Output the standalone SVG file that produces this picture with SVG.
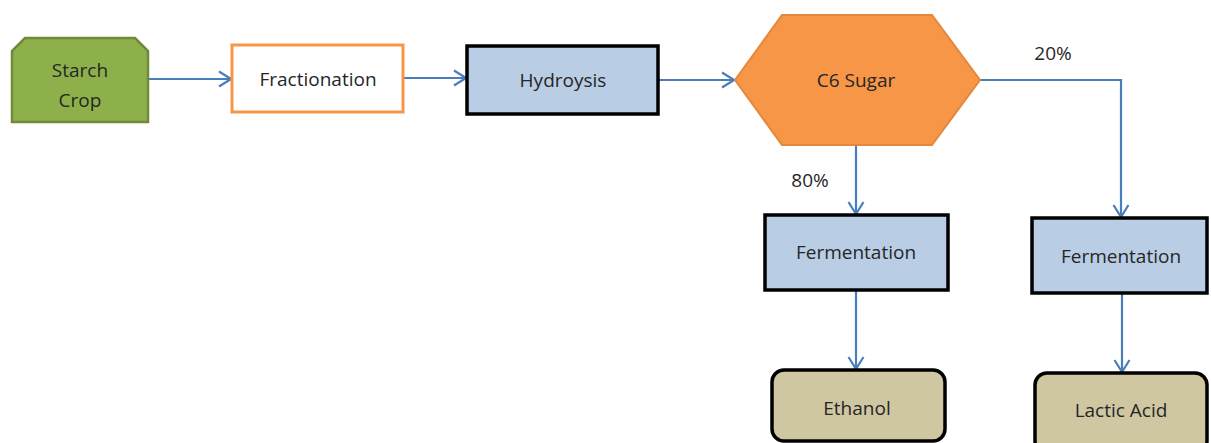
<svg xmlns="http://www.w3.org/2000/svg" width="1211" height="443" viewBox="0 0 1211 443">
<defs>
<marker id="arr" viewBox="0 0 14 18" refX="13" refY="9" markerWidth="14" markerHeight="18" markerUnits="userSpaceOnUse" orient="auto">
<path d="M1,1.5 L13,9 L1,16.5" fill="none" stroke="#4a7ebb" stroke-width="2.2"/>
</marker>
</defs>
<style>
text{font-family:"Open Sans","Liberation Sans",sans-serif;font-size:19px;fill:#262626;text-anchor:middle;dominant-baseline:central}
.blue{fill:#b9cde5;stroke:#000;stroke-width:3.5}
.tan{fill:#cfc7a1;stroke:#000;stroke-width:3.5}
.conn{fill:none;stroke:#4a7ebb;stroke-width:2.2;marker-end:url(#arr)}
</style>
<rect width="1211" height="443" fill="#fff"/>
<g id="connectors">
<path class="conn" d="M148,79 L231,79"/>
<path class="conn" d="M403,78 L466,78"/>
<path class="conn" d="M659,80 L734,80"/>
<path class="conn" d="M980,80 L1121,80 L1121,217"/>
<path class="conn" d="M856,145 L856,214"/>
<path class="conn" d="M856,290 L856,369"/>
<path class="conn" d="M1122,293 L1122,372"/>
<text x="1053" y="53">20%</text>
<text x="810" y="180">80%</text>
</g>
<g id="starch">
<path d="M25,38 L135,38 L148,51 L148,122 L12,122 L12,51 Z" fill="#8db04a" stroke="#6f8a38" stroke-width="2.5"/>
<text x="80" y="70">Starch</text>
<text x="80" y="100">Crop</text>
</g>
<g id="fractionation">
<rect x="232" y="45" width="171" height="67" fill="#fff" stroke="#f79646" stroke-width="3"/>
<text x="318" y="79">Fractionation</text>
</g>
<g id="hydroysis">
<rect class="blue" x="467" y="46" width="191" height="68"/>
<text x="563" y="80">Hydroysis</text>
</g>
<g id="c6sugar">
<path d="M735,80 L782,15 L932,15 L980,80 L932,145 L782,145 Z" fill="#f79646" stroke="#e3883c" stroke-width="2"/>
<text x="856" y="80">C6 Sugar</text>
</g>
<g id="ferm1">
<rect class="blue" x="765" y="215" width="183" height="75"/>
<text x="856" y="252">Fermentation</text>
</g>
<g id="ferm2">
<rect class="blue" x="1032" y="218" width="175" height="75"/>
<text x="1121" y="256">Fermentation</text>
</g>
<g id="ethanol">
<rect class="tan" x="772" y="370" width="173" height="71" rx="12"/>
<text x="857" y="408">Ethanol</text>
</g>
<g id="lactic">
<rect class="tan" x="1035" y="373" width="172" height="80" rx="12"/>
<text x="1121" y="410">Lactic Acid</text>
</g>
</svg>
